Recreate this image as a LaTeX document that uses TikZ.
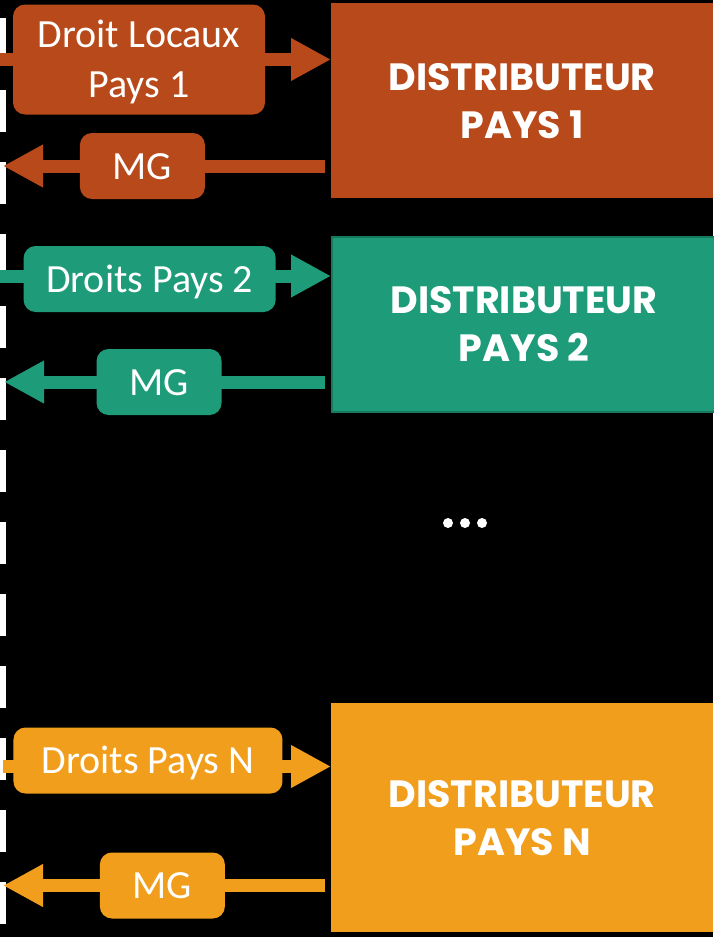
\documentclass[tikz,border=0pt]{standalone}
\usepackage{fontspec}
\setmainfont{Carlito}
\newfontfamily\titlefont{Poppins}
\usetikzlibrary{arrows.meta,calc}
\definecolor{rust}{HTML}{B8491A}
\definecolor{jade}{HTML}{1E9C7A}
\definecolor{jadeline}{HTML}{17795E}
\definecolor{amber}{HTML}{F19E1C}

\begin{document}
\begin{tikzpicture}[x=1pt,y=-1pt,
    dist/.style={anchor=north west,text=white,align=center,inner sep=0pt,
        font=\titlefont\bfseries\fontsize{38}{48}\selectfont},
    lab/.style={rounded corners=12pt,text=white,inner sep=0pt,align=center,
        minimum height=66pt,text height=26pt,text depth=0pt,font=\fontsize{40}{50}\selectfont},
    flow/.style={line width=13pt,-{Triangle[length=40pt,width=40pt]}}]
    \useasboundingbox[fill=black] (0,0) rectangle (713,937);

    % dashed border
    \coordinate (top) at (3,18);
    \coordinate (bot) at (3,937);
    \draw[white,line width=6pt,dash pattern=on 42pt off 30pt] (top) -- (bot);

    % Pays 1
    \node[dist,fill=rust,minimum width=382pt,minimum height=195pt] (d1) at (331,3) {DISTRIBUTEUR\\PAYS 1};
    \coordinate (s1) at (0,59.5);
    \coordinate (m1) at (3,166);
    \draw[rust,flow] (s1) -- node[lab,fill=rust,pos=.42,minimum width=252pt,minimum height=110pt,text height=76pt] (l1) {Droit Locaux\\Pays 1} (s1 -| d1.west);
    \draw[rust,flow] ($(m1 -| d1.west)+(-6,0)$) -- node[lab,fill=rust,pos=.567,minimum width=125pt] (g1) {MG} (m1);

    % Pays 2
    \node[dist,fill=jade,draw=jadeline,line width=2pt,minimum width=384pt,minimum height=175pt] (d2) at (331,236) {DISTRIBUTEUR\\PAYS 2};
    \coordinate (s2) at (0,276);
    \coordinate (m2) at (4,382);
    \draw[jade,flow] (s2) -- node[lab,fill=jade,pos=.452,yshift=-3pt,minimum width=252pt] (l2) {Droits Pays 2} (s2 -| d2.west);
    \draw[jade,flow] ($(m2 -| d2.west)+(-6,0)$) -- node[lab,fill=jade,pos=.517,minimum width=125pt] (g2) {MG} (m2);

    % ...
    \foreach \i in {0,1,2}
        \node[circle,fill=white,inner sep=0pt,minimum size=10pt] (dot\i) at (448+17*\i,523) {};

    % Pays N
    \node[dist,fill=amber,minimum width=382pt,minimum height=229pt] (dN) at (331,703) {DISTRIBUTEUR\\PAYS N};
    \coordinate (sN) at (3,766.5);
    \coordinate (mN) at (3,885.5);
    \draw[amber,flow] (sN) -- node[lab,fill=amber,pos=.442,yshift=6pt,minimum width=269pt] (lN) {Droits Pays N} (sN -| dN.west);
    \draw[amber,flow] ($(mN -| dN.west)+(-6,0)$) -- node[lab,fill=amber,pos=.505,minimum width=125pt] (gN) {MG} (mN);
\end{tikzpicture}
\end{document}
